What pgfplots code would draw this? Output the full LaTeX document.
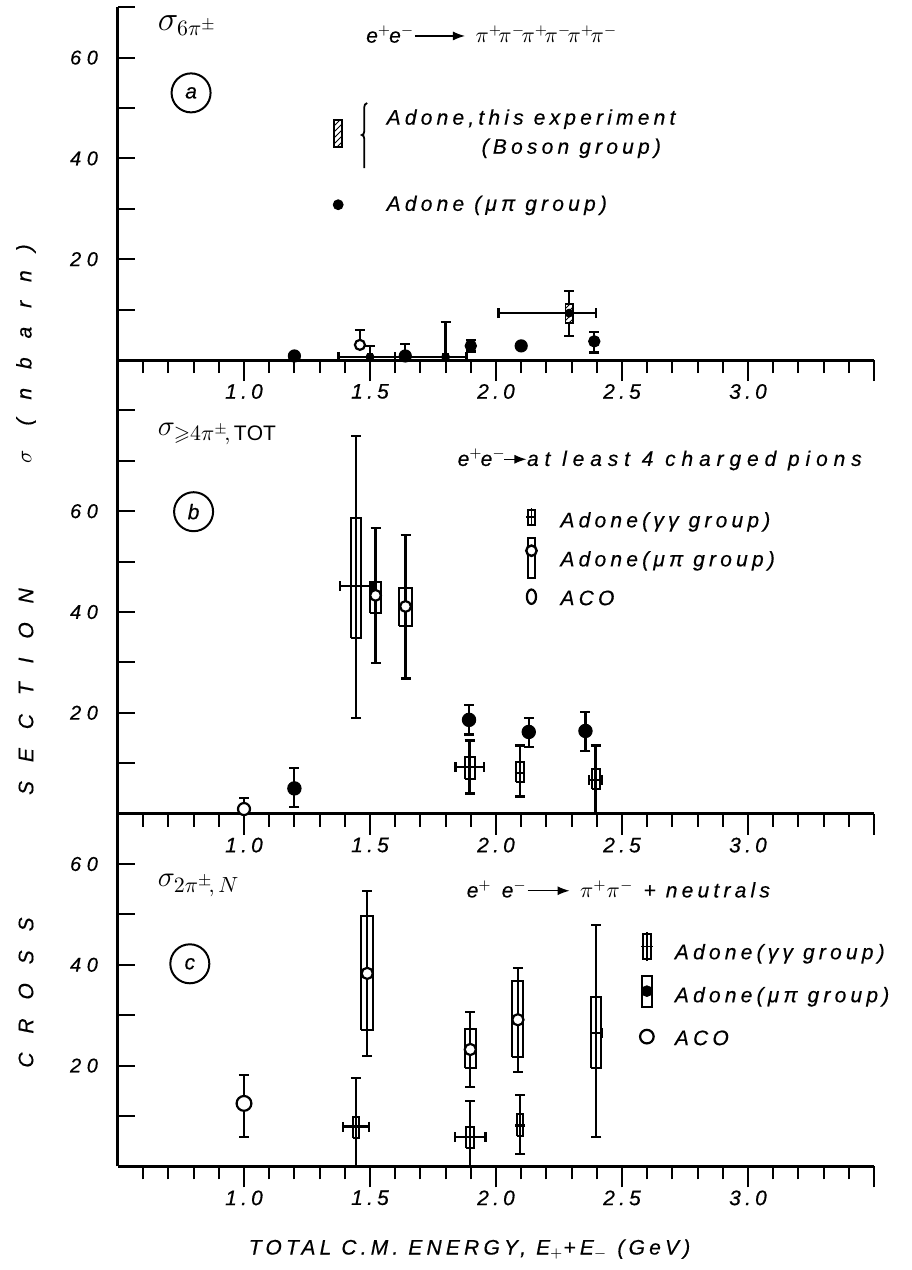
\documentclass[border=0pt]{standalone}
\usepackage{fontspec}
\usepackage{amssymb}
\setmainfont{Liberation Sans}
\newfontfamily\lbl{Liberation Sans}[LetterSpace=20, FakeBold=0.4]
\newfontfamily\lblr{Liberation Sans}[LetterSpace=28, FakeBold=0.4]
\newfontfamily\lbln{Liberation Sans}[LetterSpace=28, FakeBold=0.4]
\newfontfamily\lblw{Liberation Sans}[LetterSpace=90, FakeBold=0.4]
\usepackage{pgfplots}
\usepackage{pgfplotstable}
\pgfplotsset{compat=1.18}
\usetikzlibrary{patterns,arrows.meta}

\newcommand{\txt}{\lbl\itshape\fontsize{10.5}{12}\selectfont}
\newcommand{\st}{\rule[-2.5pt]{0pt}{10pt}}
\newcommand{\arr}[1]{\tikz[baseline=-0.6ex]\draw[line width=0.6pt,-{Latex[length=6pt,width=4.5pt]}] (0,0)--(#1,0);}

% ---- panel (a): 6 charged pions
\pgfplotstableread{
x    y    ep   em   xp    xm
1.50 0.6  2.1  0    0.100 0.125
1.80 0.6  6.9  0    0.083 0.200
}\aBosLow
\pgfplotstableread{
x    y    ep   em   xp    xm
2.29 9.3  4.4  4.5  0.108 0.280
}\aBosHigh
\pgfplotstableread{
x    y
1.20 0.8
2.10 2.8
}\aMuNoErr
\pgfplotstableread{
x    y    ep
1.64 0.8  2.4
}\aMuPlus
\pgfplotstableread{
x    y    ep   em
1.90 2.8  1.2  1.1
2.39 3.7  1.8  2.2
}\aMu
\pgfplotstableread{
x    y    ep
1.46 3.0  2.9
}\aACO

% ---- panel (b): at least 4 charged pions
\pgfplotstableread{
x     y     ep    em    xp    xm
1.445 45.2  29.8  26.3  0.065 0.065
1.895 9.2   5.3   5.2   0.056 0.056
2.095 8.1   5.4   4.7   0     0
2.395 6.7   6.8   6.7   0.025 0.025
}\bGG
\pgfplotstableread{
x     y     ep    em
1.522 43.3  13.3  13.4
1.641 41.1  14.1  14.3
}\bMuBox
\pgfplotstableread{
x     y     ep    em
1.200 5.0   4.0   3.7
1.893 18.6  2.9   2.9
2.130 16.2  2.8   3.0
2.355 16.4  3.8   4.0
}\bMu
\pgfplotstableread{
x     y     ep
1.00  0.9   2.2
}\bACO

% ---- panel (c): 2 charged pions + neutrals
\pgfplotstableread{
x     y     ep    em    xp    xm
1.444 7.9   9.7   7.9   0.052 0.052
1.898 5.8   7.1   5.8   0.060 0.060
2.096 8.1   6.1   5.7   0     0
2.398 26.5  21.4  20.6  0.022 0.022
}\cGG
\pgfplotstableread{
x     y     ep    em
1.489 38.3  16.3  16.4
1.898 23.2  7.4   7.4
2.087 29.1  10.3  10.3
}\cMuBox
\pgfplotstableread{
x     y     ep    em
1.00  12.5  5.6   6.7
}\cACO

\pgfplotsset{
  panel/.style={
    x=126pt, y=2.52pt,
    xmin=0.5, xmax=3.5, ymin=0,
    axis x line*=bottom, axis y line*=left,
    axis line style={line width=1.5pt},
    clip=false,
    unbounded coords=jump,
    xtick={1,1.5,2,2.5,3,3.5},
    xticklabels={1.0,1.5,2.0,2.5,3.0,{}},
    minor xtick={0.6,0.7,...,3.45},
    xtick align=outside, ytick align=inside,
    major tick length=8.5pt, minor tick length=6.5pt,
    xtick style={/pgfplots/major tick length=10.5pt},
    tick style={line width=1pt, black},
    /pgf/number format/assume math mode=true,
    xticklabel style={font=\txt},
    yticklabel style={font=\lbln\itshape\fontsize{10}{12}\selectfont, xshift=-6.5pt},
    legend cell align=left,
    legend style={draw=none, fill=none, inner sep=0pt, outer sep=0pt,
      anchor=north west, nodes={inner sep=0pt, outer sep=0pt}, font=\txt},
  },
  errs/.style={only marks, forget plot, black,
    error bars/error bar style={line width=1.1pt, black},
    error bars/error mark options={rotate=90, line width=1.1pt, mark size=2.5pt, black}},
  yb/.style={error bars/y dir=both, error bars/y explicit},
  yp/.style={error bars/y dir=plus, error bars/y explicit},
  xb/.style={error bars/x dir=both, error bars/x explicit},
  sbox/.style={forget plot, black, line width=1pt, mark=none},
  hatch/.style={forget plot, draw=black, line width=0.8pt, mark=none,
    preaction={fill=white}, pattern=north east lines},
  mufill/.style={mark=*, mark size=3.2pt, mark options={fill=black, draw=black, line width=0.6pt}},
  muopen/.style={mark=*, mark size=2.7pt, mark options={fill=white, draw=black, line width=1.1pt}},
  aco/.style={mark=*, mark options={fill=white, draw=black, line width=1.1pt}},
  gg/.style={mark=-, mark size=2.5pt, mark options={line width=1.1pt}},
}
\newcommand{\lgbb}{\path[draw=none, fill=none] (-4pt,-5pt) rectangle (10pt,5pt);}

\begin{document}
\begin{tikzpicture}
\path[use as bounding box] (-59pt,-455pt) rectangle (396.5pt,180pt);

% ================= (a)
\begin{axis}[panel, name=A, at={(0,0)}, anchor=south west, ymax=70,
  ytick={10,20,...,70}, yticklabels={{},20,{},40,{},60,{}},
  legend style={at={(axis cs:1.342,49.9)}, column sep=14.25pt, row sep=5pt}]
\addplot[errs, mark=none, yp, xb]
  table[x=x, y=y, y error plus=ep, x error plus=xp, x error minus=xm] {\aBosLow};
\addplot[errs, mark=none, yb, xb]
  table[x=x, y=y, y error plus=ep, y error minus=em, x error plus=xp, x error minus=xm] {\aBosHigh};
\addplot[hatch] coordinates {(1.490,0.1) (1.510,0.1) (1.510,1.3) (1.490,1.3) (1.490,0.1)};
\addplot[hatch] coordinates {(1.790,0.1) (1.810,0.1) (1.810,1.3) (1.790,1.3) (1.790,0.1)};
\addplot[hatch] coordinates {(2.2755,7.3) (2.3045,7.3) (2.3045,11.1) (2.2755,11.1) (2.2755,7.3)};
\addplot[errs, mufill, mark size=3pt] table[x=x, y=y] {\aMuNoErr};
\addplot[errs, mufill, mark size=3pt, yp] table[x=x, y=y, y error plus=ep] {\aMuPlus};
\addplot[errs, mufill, mark size=2.8pt, yb] table[x=x, y=y, y error plus=ep, y error minus=em] {\aMu};
\addplot[errs, aco, mark size=2.5pt, yp] table[x=x, y=y, y error plus=ep] {\aACO};

\addlegendimage{legend image code/.code={\lgbb
  \draw[overlay, draw=black, line width=0.8pt, preaction={fill=white}, pattern=north east lines]
    (-2pt,-14.25pt) rectangle (2pt,-0.75pt);
  \draw[overlay, draw=black, line width=0.9pt] (14.5pt,7.75pt) to[out=190,in=90] (13pt,5.5pt)
    -- (13pt,-6.5pt) to[out=-90,in=0] (11.8pt,-8.25pt) to[out=0,in=90] (13pt,-10pt)
    -- (13pt,-24.75pt);}}
\addlegendentry{\st Adone,this experiment}
\addlegendimage{legend image code/.code={}}
\addlegendentry{\st\hspace{47.5pt}(Boson group)}
\addlegendimage{legend image code/.code={}}
\addlegendentry{\st}
\addlegendimage{legend image code/.code={\lgbb
  \fill[overlay, black] (0,0) circle (2.5pt);}}
\addlegendentry{\st Adone (μπ group)}

\node[anchor=west, font=\fontsize{16}{16}\selectfont] at (axis cs:0.63,66.3) {$\sigma_{6\pi^{\pm}}$};
\node[anchor=west, font=\txt] at (axis cs:1.457,64.6)
  {e$^{+}$\kern-1pt e$^{-}$\arr{25pt} $\pi^{+}\!\pi^{-}\!\pi^{+}\!\pi^{-}\!\pi^{+}\!\pi^{-}$};
\node[circle, draw, line width=1pt, minimum size=19.5pt, inner sep=0pt, font=\txt]
  at (axis cs:0.79,53) {a};
\node[rotate=90, font=\lblw\itshape\fontsize{10.5}{12}\selectfont]
  at ([xshift=-46pt]axis cs:0.5,1.2) {$\sigma$ (nbarn)};
\end{axis}

% ================= (b)
\begin{axis}[panel, name=B, at={(A.south west)}, anchor=north west, ymax=90,
  ytick={10,20,...,80}, yticklabels={{},20,{},40,{},60,{},{}},
  legend style={at={(axis cs:2.109,60)}, column sep=4.5pt, row sep=9.5pt}]
\addplot[sbox] coordinates {
  (1.425,34.8) (1.465,34.8) (1.465,58.7) (1.425,58.7) (1.425,34.8) (1.445,nan)
  (1.875,6.9) (1.915,6.9) (1.915,11.2) (1.875,11.2) (1.875,6.9) (1.895,nan)
  (2.079,6.3) (2.111,6.3) (2.111,10.2) (2.079,10.2) (2.079,6.3) (2.095,nan)
  (2.379,4.8) (2.411,4.8) (2.411,8.9) (2.379,8.9) (2.379,4.8) (2.395,nan)
  (1.501,39.9) (1.543,39.9) (1.543,46.0) (1.501,46.0) (1.501,39.9) (1.522,nan)
  (1.617,37.3) (1.665,37.3) (1.665,44.7) (1.617,44.7) (1.617,37.3)};
\addplot[errs, gg, yb, xb]
  table[x=x, y=y, y error plus=ep, y error minus=em, x error plus=xp, x error minus=xm] {\bGG};
\addplot[errs, muopen, yb] table[x=x, y=y, y error plus=ep, y error minus=em] {\bMuBox};
\addplot[errs, mufill, mark size=3.3pt, yb] table[x=x, y=y, y error plus=ep, y error minus=em] {\bMu};
\addplot[errs, aco, mark size=3pt, yp] table[x=x, y=y, y error plus=ep] {\bACO};

\addlegendimage{legend image code/.code={\lgbb
  \draw[overlay, draw=black, line width=0.9pt] (-1.75pt,-1.75pt) rectangle (1.75pt,5.75pt);
  \draw[overlay, draw=black, line width=0.8pt] (0,-2.5pt) -- (0,6.5pt) (-2.5pt,2pt) -- (2.5pt,2pt);}}
\addlegendentry{\st Adone(γγ group)}
\addlegendimage{legend image code/.code={\lgbb
  \draw[overlay, draw=black, line width=0.9pt] (-1.75pt,-8.75pt) rectangle (1.75pt,11.25pt);
  \draw[overlay, draw=black, line width=1.2pt, fill=white] (0,4.75pt) circle (2.6pt);}}
\addlegendentry{\st Adone(μπ group)}
\addlegendimage{legend image code/.code={\lgbb
  \draw[overlay, draw=black, line width=1.1pt] (0,1.25pt) ellipse (2.3pt and 3.6pt);}}
\addlegendentry{\st ACO}

\node[anchor=west, font=\fontsize{15}{15}\selectfont] at (axis cs:0.63,75.4)
  {$\sigma_{\geqslant 4\pi^{\pm}\!,\,\mathrm{TOT}}$};
\node[anchor=west, font=\lblr\itshape\fontsize{10.5}{12}\selectfont] at (axis cs:1.82,70.2)
  {e$^{+}$\kern-1pt e$^{-}$\kern-1pt\arr{11pt}at least 4 charged pions};
\node[circle, draw, line width=1pt, minimum size=19.5pt, inner sep=0pt, font=\txt]
  at (axis cs:0.80,59.9) {b};
\node[rotate=90, font=\lblw\itshape\fontsize{10.5}{12}\selectfont]
  at ([xshift=-46pt]axis cs:0.5,24.2) {SECTION};
\end{axis}

% ================= (c)
\begin{axis}[panel, name=C, at={(B.south west)}, anchor=north west, ymax=70,
  ytick={10,20,...,60}, yticklabels={{},20,{},40,{},60},
  legend style={at={(axis cs:2.567,44.3)}, column sep=4pt, row sep=11.5pt}]
\addplot[sbox] coordinates {
  (1.431,5.7) (1.457,5.7) (1.457,9.9) (1.431,9.9) (1.431,5.7) (1.444,nan)
  (1.882,3.7) (1.914,3.7) (1.914,7.8) (1.882,7.8) (1.882,3.7) (1.898,nan)
  (2.084,6.1) (2.108,6.1) (2.108,10.4) (2.084,10.4) (2.084,6.1) (2.096,nan)
  (2.378,19.6) (2.418,19.6) (2.418,33.7) (2.378,33.7) (2.378,19.6) (2.398,nan)
  (1.465,27.0) (1.513,27.0) (1.513,49.6) (1.465,49.6) (1.465,27.0) (1.489,nan)
  (1.875,19.5) (1.921,19.5) (1.921,27.2) (1.875,27.2) (1.875,19.5) (1.898,nan)
  (2.065,21.7) (2.109,21.7) (2.109,36.7) (2.065,36.7) (2.065,21.7)};
\addplot[errs, gg, yb, xb]
  table[x=x, y=y, y error plus=ep, y error minus=em, x error plus=xp, x error minus=xm] {\cGG};
\addplot[errs, muopen, mark size=2.8pt, yb] table[x=x, y=y, y error plus=ep, y error minus=em] {\cMuBox};
\addplot[errs, aco, mark size=3.7pt, yb] table[x=x, y=y, y error plus=ep, y error minus=em] {\cACO};

\addlegendimage{legend image code/.code={\lgbb
  \draw[overlay, draw=black, line width=0.9pt] (-2pt,-3pt) rectangle (2pt,9.5pt);
  \draw[overlay, draw=black, line width=0.8pt] (0,-4pt) -- (0,10.5pt) (-3pt,3.25pt) -- (3pt,3.25pt);}}
\addlegendentry{\st Adone(γγ group)}
\addlegendimage{legend image code/.code={\lgbb
  \draw[overlay, draw=black, line width=0.9pt] (-2.5pt,-5.25pt) rectangle (2.5pt,10.25pt);
  \fill[overlay, black] (0,2.5pt) circle (2.7pt);}}
\addlegendentry{\st Adone(μπ group)}
\addlegendimage{legend image code/.code={\lgbb
  \draw[overlay, draw=black, line width=1.1pt] (0,1.25pt) circle (3.4pt);}}
\addlegendentry{\st ACO}

\node[anchor=west, font=\fontsize{15.5}{15.5}\selectfont] at (axis cs:0.63,55.8)
  {$\sigma_{2\pi^{\pm}\!,\,N}$};
\node[anchor=west, font=\txt] at (axis cs:1.856,55)
  {e$^{+}$ e$^{-}$\arr{21pt} $\pi^{+}\pi^{-}$ + neutrals};
\node[circle, draw, line width=1pt, minimum size=19.5pt, inner sep=0pt, font=\txt]
  at (axis cs:0.785,40.2) {c};
\node[rotate=90, font=\lblw\itshape\fontsize{10.5}{12}\selectfont]
  at ([xshift=-46pt]axis cs:0.5,34.5) {CROSS};
\node[font=\txt] at ([yshift=-41.5pt]axis cs:1.895,0)
  {TOTAL C.M. ENERGY, E$_{+}$+E$_{-}$ (GeV)};
\end{axis}
\end{tikzpicture}
\end{document}
